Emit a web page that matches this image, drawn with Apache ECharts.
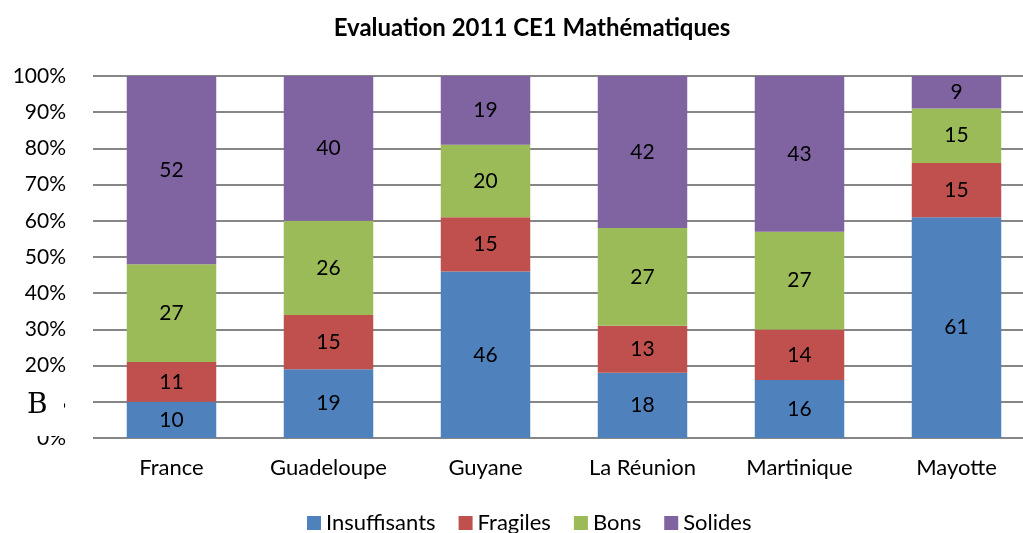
<!DOCTYPE html>
<html><head><meta charset="utf-8">
<script src="https://cdn.jsdelivr.net/npm/echarts@6/dist/echarts.min.js"></script>
<style>html,body{margin:0;padding:0;background:#fff}#c{width:1023px;height:533px}</style>
</head><body><div id="c"></div>
<script>
var categories = ['France','Guadeloupe','Guyane','La Réunion','Martinique','Mayotte'];
var insuffisants = [10,19,46,18,16,61];
var fragiles = [11,15,15,13,14,15];
var bons = [27,26,20,27,27,15];
var solides = [52,40,19,42,43,9];
var seriesNames = ['Insuffisants','Fragiles','Bons','Solides'];
var colors = ['#4F81BD','#C0504D','#9BBB59','#8064A2'];
var font = 'Lato, "Open Sans", sans-serif';
var chart = echarts.init(document.getElementById('c'));
function mk(name, data, color){
  return {name:name,type:'bar',stack:'t',data:data,barWidth:'57%',
    itemStyle:{color:color},
    label:{show:true,position:'inside',color:'#000',fontFamily:font,fontSize:21},
    emphasis:{disabled:true}};
}
chart.setOption({
  animation:false,
  title:{text:'Evaluation 2011 CE1 Mathématiques',left:527,top:11,textAlign:'center',
    textStyle:{fontFamily:font,fontWeight:'bold',fontSize:24,color:'#000'}},
  legend:{bottom:-6,left:302,itemWidth:14,itemHeight:14,itemGap:23,icon:'rect',
    textStyle:{fontFamily:font,fontSize:22,color:'#000'},data:seriesNames},
  grid:{left:93,width:942,top:76,bottom:95,outerBoundsMode:'none',containLabel:false},
  xAxis:{type:'category',data:categories,axisLine:{show:false},axisTick:{show:false},
    axisLabel:{fontFamily:font,fontSize:22,color:'#000',margin:19}},
  yAxis:{type:'value',min:0,max:100,interval:10,
    axisLabel:{formatter:'{value}%',fontFamily:font,fontSize:21,color:'#000',margin:27},
    axisLine:{show:false},axisTick:{show:false},
    splitLine:{lineStyle:{color:'#868686',width:2}}},
  series:[mk(seriesNames[0],insuffisants,colors[0]),mk(seriesNames[1],fragiles,colors[1]),
    mk(seriesNames[2],bons,colors[2]),mk(seriesNames[3],solides,colors[3])],
  graphic:[
    {type:'rect',shape:{x:0,y:384,width:64,height:52},style:{fill:'#fff'},z:100},
    {type:'text',left:27,top:392,style:{text:'B',font:'28px "DejaVu Serif", "Liberation Serif", serif',fill:'#000'},z:101}
  ]
});
</script></body></html>
